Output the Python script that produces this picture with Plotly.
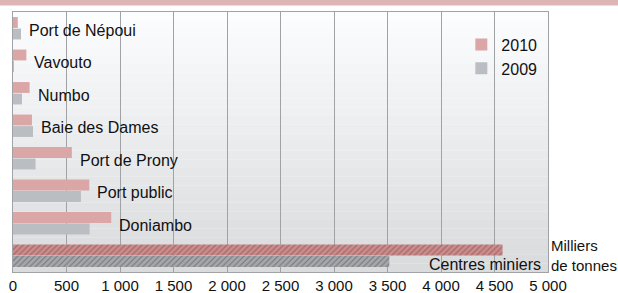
import plotly.graph_objects as go

categories = ["Port de Népoui", "Vavouto", "Numbo", "Baie des Dames",
              "Port de Prony", "Port public", "Doniambo", "Centres miniers"]
v2010 = [45, 125, 155, 177, 550, 713, 918, 4575]
v2009 = [75, 6, 84, 187, 211, 635, 716, 3517]
x_ticks = [0, 500, 1000, 1500, 2000, 2500, 3000, 3500, 4000, 4500, 5000]
unit_label = "Milliers<br>de tonnes"

FONT = "Liberation Sans, Arial, sans-serif"

W, H = 618, 293
ML, MR, MT, MB = 13, 70, 12, 21

pat2010 = ["/" if c == "Centres miniers" else "" for c in categories]
pat2009 = ["/" if c == "Centres miniers" else "" for c in categories]
col2010 = ["#d08a8a" if c == "Centres miniers" else "#dba6a6" for c in categories]
col2009 = ["#a4a7ab" if c == "Centres miniers" else "#babec2" for c in categories]

fig = go.Figure()
fig.add_trace(go.Bar(
    y=categories, x=v2010, orientation="h", name="2010",
    marker=dict(color=col2010, line=dict(width=0),
                pattern=dict(shape=pat2010, fgcolor="#c27a7a", size=4, solidity=0.25)),
))
fig.add_trace(go.Bar(
    y=categories, x=v2009, orientation="h", name="2009",
    marker=dict(color=col2009, line=dict(width=0),
                pattern=dict(shape=pat2009, fgcolor="#8a8d91", size=4, solidity=0.25)),
))

# category labels next to bars
for c, a, b in zip(categories, v2010, v2009):
    if c == "Centres miniers":
        fig.add_annotation(x=5000, y=c, text=c, showarrow=False, xanchor="right",
                           xshift=-5, yshift=-9, font=dict(size=16, color="#111", family=FONT))
    else:
        fig.add_annotation(x=max(a, b), y=c, text=c, showarrow=False, xanchor="left",
                           xshift=6, yshift=-2, font=dict(size=16, color="#111", family=FONT))

fig.add_annotation(xref="paper", yref="paper", x=1, y=0, text=unit_label, showarrow=False,
                   xanchor="left", yanchor="bottom", xshift=1, yshift=-4, align="left",
                   font=dict(size=15, color="#111", family=FONT))

# background gradient bands (plot area)
shapes = []
N = 30
for i in range(N):
    t = i / (N - 1)
    g = int(252 - (252 - 218) * t)
    shapes.append(dict(type="rect", xref="paper", yref="paper", layer="below",
                       x0=0, x1=1, y0=1 - (i + 1) / N, y1=1 - i / N,
                       fillcolor=f"rgb({g},{g+1},{g+3})", line=dict(width=0)))
# header band
pw = W - ML - MR
ph = H - MT - MB
shapes.append(dict(type="rect", xref="paper", yref="paper", layer="above",
                   x0=-ML / pw, x1=(W - ML) / pw, y0=1 + 6.5 / ph, y1=1 + (MT + 2) / ph,
                   fillcolor="#ddb5b5", line=dict(width=0)))

fig.update_layout(
    width=W, height=H,
    margin=dict(l=ML, r=MR, t=MT, b=MB, autoexpand=False),
    paper_bgcolor="white", plot_bgcolor="rgba(0,0,0,0)",
    barmode="group", bargap=0.29, bargroupgap=0.06,
    separators=", ",
    font=dict(family=FONT, size=16, color="#111"),
    shapes=shapes,
    showlegend=True,
    legend=dict(x=0.838, y=0.94, xanchor="left", yanchor="top",
                bgcolor="rgba(0,0,0,0)", font=dict(size=16, family=FONT, color="#111"),
                tracegroupgap=0, itemwidth=30, traceorder="normal"),
    xaxis=dict(range=[0, 5000], tickvals=x_ticks, tickformat=",d", automargin=False,
               showgrid=True, gridcolor="#a0a2a5", gridwidth=1,
               showline=True, linecolor="#a0a2a5", mirror=True,
               ticks="", zeroline=False, tickfont=dict(size=15, family=FONT, color="#111")),
    yaxis=dict(autorange="reversed", showticklabels=False, ticks="", automargin=False,
               showgrid=False, showline=True, linecolor="#a0a2a5", mirror=True),
)

fig.write_html("out.html", config={"displayModeBar": False},
               post_script="document.body.style.margin='0';document.body.style.padding='0';")
